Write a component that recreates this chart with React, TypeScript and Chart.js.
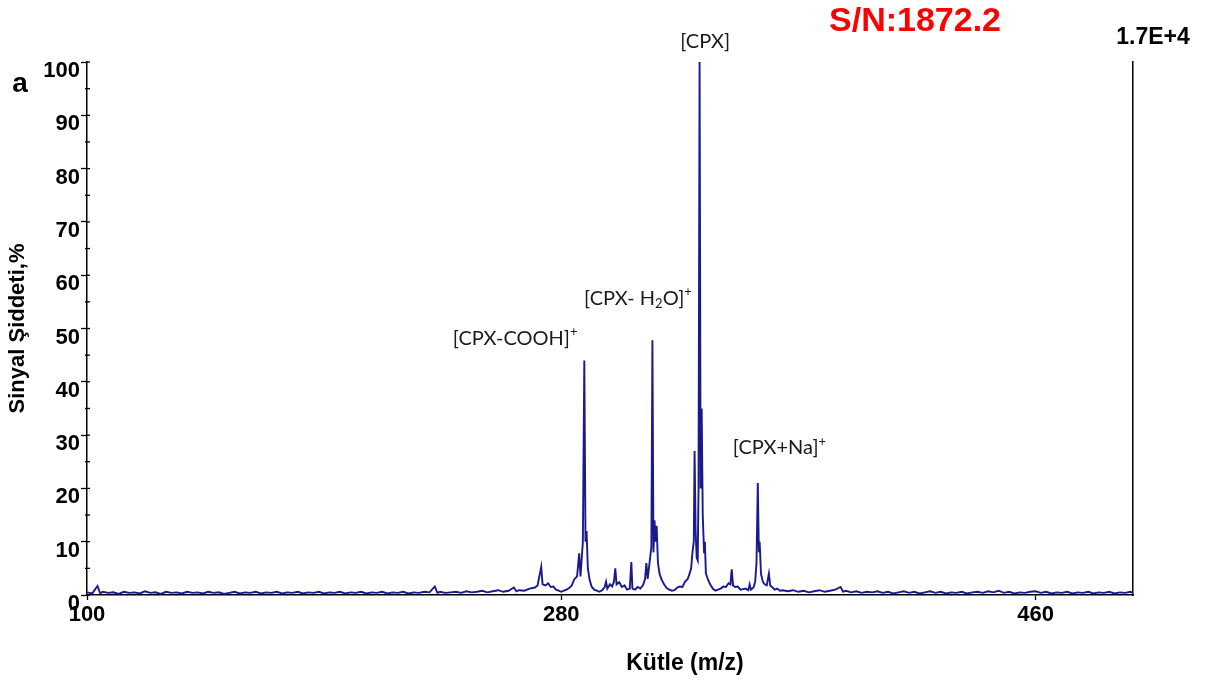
import { useEffect, useRef } from "react";
import { Chart, registerables } from "chart.js";
Chart.register(...registerables);

// ---- spectrum data (m/z, relative intensity %) ----
const lowMz = [
  100, 102, 104, 105, 106, 108, 110, 112, 114, 116,
  118, 120, 122, 124, 126, 128, 130, 132, 134, 136,
  138, 140, 142, 144, 146, 148, 150, 152, 154, 156,
  158, 160, 162, 164, 166, 168, 170, 172, 174, 176,
  178, 180, 182, 184, 186, 188, 190, 192, 194, 196,
  198, 200, 202, 204, 206, 208, 210, 212, 214, 216,
  218, 220, 222, 224, 226, 228, 230, 232, 233, 234,
  236, 238, 240, 242, 244, 246, 248, 250, 252, 254,
  256, 258, 260, 262, 263, 264, 266, 268, 270, 271,
];
const lowInt = [
  0.5, 0.3, 1.7, 0.3, 0.6, 0.4, 0.5, 0.2, 0.6, 0.4,
  0.5, 0.3, 0.7, 0.4, 0.5, 0.2, 0.6, 0.4, 0.5, 0.3,
  0.6, 0.4, 0.5, 0.3, 0.6, 0.4, 0.5, 0.2, 0.4, 0.6,
  0.3, 0.5, 0.4, 0.6, 0.3, 0.5, 0.4, 0.6, 0.3, 0.5,
  0.4, 0.6, 0.3, 0.5, 0.4, 0.6, 0.3, 0.5, 0.4, 0.6,
  0.3, 0.5, 0.4, 0.6, 0.3, 0.5, 0.4, 0.6, 0.3, 0.5,
  0.4, 0.6, 0.3, 0.5, 0.4, 0.6, 0.5, 1.6, 0.4, 0.6,
  0.4, 0.5, 0.6, 0.4, 0.7, 0.5, 0.6, 0.8, 0.5, 0.7,
  0.9, 0.6, 0.8, 1.4, 0.7, 0.9, 0.8, 1.2, 1.4, 1.8,
];
const peakMz = [
  272.4, 272.9, 274, 275, 276, 277, 278, 279, 280, 281,
  282, 283, 284, 285, 286, 286.8, 287.3, 288.2, 288.75, 289.2,
  289.6, 290.1, 290.7, 291.5, 292.5, 293.5, 294.5, 295.5, 296.5, 297,
  297.5, 298.5, 299.3, 300, 300.5, 301, 302, 303, 304, 305,
  306, 306.6, 307, 308, 309, 310, 311, 311.8, 312.3, 312.8,
  313.5, 314.2, 314.6, 315, 315.4, 315.8, 316.2, 316.7, 317.3, 318,
  319, 320, 321, 322, 323, 324, 325, 326, 327, 328,
  328.7, 329.3, 329.8, 330.3, 330.6, 331, 331.4, 331.8, 332.1, 332.5,
  332.9, 333.3, 333.7, 334.2, 334.5, 334.9, 335.6, 336.5, 337.5, 338.5,
  339.5, 340.5, 341.5, 342.5, 343.5, 344.2, 344.7, 345.2, 346, 347,
  348, 349, 350, 351, 351.5, 352, 353, 353.6, 354.1, 354.6,
  355, 355.3, 355.8, 356.5, 357.2, 358, 358.8, 359.3, 360, 361,
  362, 363, 364,
];
const peakInt = [
  5.3, 2.0, 1.8, 2.2, 1.5, 1.6, 1.0, 0.8, 0.6, 0.8,
  1.0, 1.3, 1.8, 3.0, 3.5, 7.8, 3.5, 10, 44, 10,
  12, 5, 3, 1.6, 1.0, 0.8, 0.6, 0.9, 1.5, 2.5,
  1.2, 2.0, 1.6, 2.5, 5.0, 2.0, 2.4, 1.5, 1.8, 1.0,
  1.2, 6.2, 1.2, 1.0, 1.5, 1.2, 1.8, 3.0, 6.0, 3.0,
  6, 9, 47.8, 8, 14, 10, 13, 6, 4, 3,
  2, 1.3, 1.0, 0.8, 0.9, 1.4, 1.6, 1.5, 2.5, 3,
  4, 5, 8, 10, 27, 12, 7, 6.5, 20, 100,
  20, 35, 15, 8, 10, 4, 3, 2, 1.2, 0.8,
  1.0, 1.2, 1.6, 1.5, 2.2, 2.0, 4.8, 1.8, 1.5, 1.6,
  1.0, 1.1, 1.2, 0.9, 2.0, 1.0, 1.4, 2.5, 6, 21,
  8, 10, 4, 2.5, 2, 1.8, 4, 1.8, 1.5, 1.0,
  1.2, 0.8, 0.9,
];
const highMz = [
  366, 368, 370, 372, 374, 376, 378, 380, 382, 384,
  386, 387, 388, 390, 392, 394, 396, 398, 400, 402,
  404, 406, 408, 410, 412, 414, 416, 418, 420, 422,
  424, 426, 428, 430, 432, 434, 436, 438, 440, 442,
  444, 446, 448, 450, 452, 454, 456, 458, 460, 462,
  464, 466, 468, 470, 472, 474, 476, 478, 480, 482,
  484, 486, 488, 490, 492, 494, 496, 497,
];
const highInt = [
  0.7, 0.9, 0.6, 0.8, 0.5, 0.7, 0.9, 0.6, 0.8, 1.0,
  1.5, 0.6, 0.8, 0.5, 0.7, 0.4, 0.6, 0.5, 0.7, 0.4,
  0.6, 0.3, 0.5, 0.7, 0.4, 0.6, 0.3, 0.5, 0.7, 0.4,
  0.6, 0.3, 0.5, 0.4, 0.6, 0.3, 0.5, 0.6, 0.4, 0.7,
  0.5, 0.8, 0.4, 0.6, 0.3, 0.5, 0.4, 0.6, 0.7, 0.4,
  0.6, 0.3, 0.5, 0.4, 0.6, 0.3, 0.5, 0.4, 0.6, 0.3,
  0.5, 0.4, 0.6, 0.3, 0.5, 0.4, 0.6, 0.4,
];

const xTickValues = [100, 280, 460];
const xMin = 100;
const xMax = 497;
const yMin = 0;
const yMax = 100;
const yMajorStep = 10;
const yMinorStep = 5;

// peak annotations: text parts, anchor m/z, anchor intensity
type Part = { t: string; sub?: boolean; sup?: boolean };
const annParts: Part[][] = [
  [{ t: "[CPX]" }],
  [{ t: "[CPX- H" }, { t: "2", sub: true }, { t: "O]" }, { t: "+", sup: true }],
  [{ t: "[CPX-COOH]" }, { t: "+", sup: true }],
  [{ t: "[CPX+Na]" }, { t: "+", sup: true }],
];
const annMz = [334.6, 309.1, 262.5, 362.8];
const annInt = [103.9, 55.7, 48.2, 27.6];

const snText = "S/N:1872.2";
const scaleText = "1.7E+4";
const panelText = "a";
const xTitle = "Kütle (m/z)";
const yTitle = "Sinyal Şiddeti,%";

const FONT = "'Liberation Sans', Arial, sans-serif";
const ANN_FONT = "Lato, 'Open Sans', sans-serif";
const LINE_COLOR = "#1a1a8e";

const overlay = {
  id: "overlay",
  afterDraw(chart: any) {
    const { ctx, chartArea, scales } = chart;
    const xs = scales.x;
    const ys = scales.y;
    ctx.save();
    // y minor ticks + inward stubs
    ctx.strokeStyle = "#000";
    ctx.lineWidth = 1.3;
    for (let v = yMin; v <= yMax; v += yMinorStep) {
      const py = ys.getPixelForValue(v);
      const major = v % yMajorStep === 0;
      ctx.beginPath();
      ctx.moveTo(chartArea.left - (major ? 0 : 2), py);
      ctx.lineTo(chartArea.left + 3, py);
      ctx.stroke();
    }
    // texts
    ctx.fillStyle = "#ff0000";
    ctx.font = `bold 34px ${FONT}`;
    ctx.textAlign = "center";
    ctx.textBaseline = "middle";
    ctx.fillText(snText, chartArea.right - 218, 22);

    ctx.fillStyle = "#000";
    ctx.font = `bold 23px ${FONT}`;
    ctx.fillText(scaleText, chartArea.right + 20, 38);

    ctx.font = `bold 28px ${FONT}`;
    ctx.fillText(panelText, 20, 84);

    ctx.font = `bold 23px ${FONT}`;
    ctx.fillText(xTitle, 685, 664);

    // annotations
    ctx.fillStyle = "#1a1a1a";
    for (let i = 0; i < annParts.length; i++) {
      const parts = annParts[i];
      const fontFor = (p: Part) =>
        p.sub || p.sup ? `13px ${ANN_FONT}` : `20px ${ANN_FONT}`;
      let total = 0;
      for (const p of parts) {
        ctx.font = fontFor(p);
        total += ctx.measureText(p.t).width;
      }
      let cx = xs.getPixelForValue(annMz[i]) - total / 2;
      const cy = ys.getPixelForValue(annInt[i]);
      ctx.textAlign = "left";
      for (const p of parts) {
        ctx.font = fontFor(p);
        const dy = p.sub ? 6 : p.sup ? -6 : 0;
        ctx.fillText(p.t, cx, cy + dy);
        cx += ctx.measureText(p.t).width;
      }
    }
    ctx.restore();
  },
};

export default function App() {
  const ref = useRef<HTMLCanvasElement | null>(null);
  useEffect(() => {
    if (!ref.current) return;
    const mz = [...lowMz, ...peakMz, ...highMz];
    const inten = [...lowInt, ...peakInt, ...highInt];
    const pts = mz.map((m, i) => ({ x: m, y: inten[i] }));
    const chart = new Chart(ref.current, {
      type: "line",
      data: {
        datasets: [
          {
            data: pts,
            borderColor: LINE_COLOR,
            borderWidth: 1.9,
            pointRadius: 0,
            tension: 0,
            fill: false,
          },
        ],
      },
      options: {
        animation: false,
        responsive: false,
        events: [],
        layout: { padding: { left: 0, right: 74, top: 62, bottom: 0 } },
        plugins: { legend: { display: false }, tooltip: { enabled: false } },
        scales: {
          x: {
            type: "linear",
            min: xMin,
            max: xMax,
            afterBuildTicks: (s: any) => {
              s.ticks = xTickValues.map((v) => ({ value: v }));
            },
            afterFit: (s: any) => {
              s.height = 88;
            },
            ticks: {
              color: "#000",
              font: { family: FONT, size: 22, weight: "bold" },
              padding: 2,
              maxRotation: 0,
              autoSkip: false,
            },
            grid: {
              display: true,
              drawOnChartArea: false,
              drawTicks: true,
              tickLength: 5,
              tickColor: "#000",
              tickWidth: 1.3,
            },
            border: { display: true, color: "#000", width: 1.5 },
          },
          y: {
            type: "linear",
            min: yMin,
            max: yMax,
            afterFit: (s: any) => {
              s.width = 87;
            },
            ticks: {
              stepSize: yMajorStep,
              color: "#000",
              font: { family: FONT, size: 22, weight: "bold" },
              padding: 1,
              labelOffset: 9,
            },
            grid: {
              display: true,
              drawOnChartArea: false,
              drawTicks: true,
              tickLength: 6,
              tickColor: "#000",
              tickWidth: 1.3,
            },
            border: { display: true, color: "#000", width: 1.5 },
            title: {
              display: true,
              text: yTitle,
              color: "#000",
              font: { family: FONT, size: 22, weight: "bold" },
              padding: { top: 5, bottom: 0 },
            },
          },
          y2: {
            type: "linear",
            position: "right",
            min: yMin,
            max: yMax,
            afterFit: (s: any) => {
              s.width = 0;
            },
            ticks: { display: false },
            grid: { display: true, drawOnChartArea: false, drawTicks: false },
            border: { display: true, color: "#000", width: 1.5 },
          },
        },
      },
      plugins: [overlay],
    });
    return () => chart.destroy();
  }, []);
  return (
    <div style={{ position: "absolute", left: 0, top: 0, width: 1207, height: 683, background: "#fff" }}>
      <canvas ref={ref} width={1207} height={683} />
    </div>
  );
}
